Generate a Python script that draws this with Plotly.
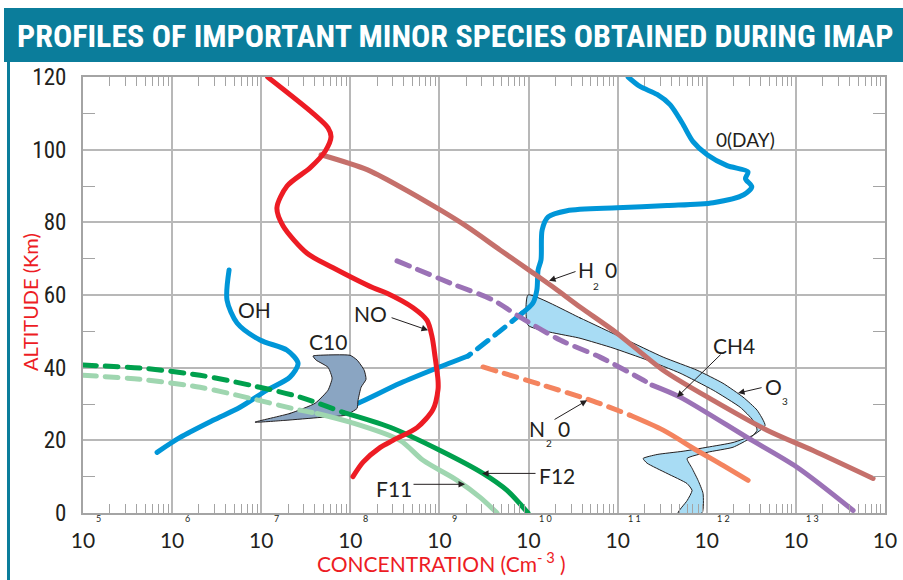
import plotly.graph_objects as go

# ---------------- data (concentration in cm^-3, altitude in km) ----------------
no_conc = [1.18e7, 3.81e7, 5.62e7, 6.07e7, 5.20e7, 3.53e7, 1.95e7, 1.50e7, 1.76e7, 3.27e7, 6.40e7,
           1.80e8, 2.58e8, 5.06e8, 7.26e8, 8.26e8, 8.93e8, 9.64e8, 9.64e8, 8.47e8, 5.61e8, 3.01e8,
           2.15e8, 1.39e8, 1.07e8]
no_alt = [120, 110, 106, 103.5, 99.5, 95, 90, 84, 79, 71.5, 67.5, 62, 60.5, 56.5, 53, 48.5, 43,
          36.5, 34, 28.5, 23.5, 20, 18, 14, 10]

oday_conc = [1.31e11, 1.78e11, 2.77e11, 3.87e11, 5.28e11, 7.01e11, 1.01e12, 1.69e12, 2.90e12,
             2.72e12, 3.20e12, 2.60e12, 1.18e12, 3.58e11, 9.84e10, 2.70e10,
             1.66e10, 1.42e10, 1.38e10, 1.28e10, 1.24e10, 1.12e10, 8.45e9]
oday_alt = [120, 117.4, 115.2, 112.4, 107.4, 102.2, 98.6, 95.6, 93.9, 92.0, 89.8,
            87.6, 85.4, 84.6, 84.0, 83.2, 81.5, 77.9, 69.7, 66.9, 61.4, 57.8, 55.0]
o_dash_conc = [8.45e9, 4.21e9, 2.09e9]
o_dash_alt = [55.0, 49.0, 43.2]
o_low_conc = [2.09e9, 9.40e8, 3.61e8, 1.22e8, 8.71e7]
o_low_alt = [43.2, 39.9, 35.7, 30.2, 28.8]

oh_conc = [4.36e6, 4.13e6, 5.35e6, 9.70e6, 1.95e7, 2.59e7, 2.10e7, 1.16e7, 5.78e6, 2.88e6,
           1.23e6, 6.78e5]
oh_alt = [66.9, 58.6, 52.3, 47.6, 44.8, 41.2, 37.4, 33.8, 29.1, 25.5, 20.8, 16.7]

o3_conc = [4.69e7, 1.54e8, 3.61e8, 1.02e9, 2.04e9, 4.79e9, 1.12e10, 2.09e10, 3.78e10, 9.84e10,
           3.24e11, 1.18e12, 4.75e12, 1.56e13, 7.35e13]
o3_alt = [98.6, 94.5, 89.8, 83.4, 78.8, 72.4, 66.1, 61.4, 56.7, 49.5, 39.3, 31.0, 22.8, 17.2, 9.5]

ch4_dash_conc = [3.34e8, 1.32e9, 4.00e9, 8.04e9, 2.26e10, 6.34e10, 1.93e11, 2.43e11]
ch4_dash_alt = [69.4, 63.3, 58.6, 53.9, 47.6, 42.9, 36.6, 35.2]
ch4_conc = [2.43e11, 5.01e11, 2.83e12, 1.03e13, 4.39e13]
ch4_alt = [35.2, 31.9, 20.8, 12.6, 0.7]

n2o_dash_conc = [3.08e9, 1.35e10, 5.30e10, 1.38e11]
n2o_dash_alt = [40.2, 35.4, 30.8, 26.9]
n2o_conc = [1.38e11, 3.24e11, 7.78e11, 1.52e12, 2.91e12]
n2o_alt = [26.9, 22.8, 17.2, 13.1, 9.0]

f12_dash_conc = [1.00e5, 4.37e5, 2.06e6, 7.48e6, 2.72e7, 8.28e7]
f12_dash_alt = [40.7, 39.9, 37.9, 35.2, 31.9, 27.7]
f12_conc = [8.28e7, 2.79e8, 1.02e9, 3.08e9, 5.74e9, 9.86e9]
f12_alt = [27.7, 23.6, 17.2, 10.9, 6.2, 0]

f11_dash_conc = [1.00e5, 4.37e5, 2.06e6, 7.48e6, 2.72e7, 4.23e7]
f11_dash_alt = [37.9, 36.8, 34.6, 31.6, 28.3, 27.4]
f11_conc = [4.23e7, 9.93e7, 3.61e8, 6.55e8, 1.58e9, 2.86e9, 4.43e9]
f11_alt = [27.4, 25.0, 20.0, 14.5, 9.0, 4.3, 0]

h2o_conc = [9.86e9, 3.78e10, 1.15e11, 3.24e11, 7.78e11, 1.52e12, 2.55e12, 3.67e12, 4.51e12,
            3.31e12, 1.97e12, 1.01e12, 5.42e11, 2.77e11, 1.93e11, 2.14e11, 3.58e11, 6.01e11,
            6.84e11, 6.01e11, 4.76e11,
            8.85e11, 9.08e11, 7.98e11, 6.84e11, 6.01e11, 1.01e12, 1.97e12, 3.06e12, 3.67e12,
            3.31e12, 2.37e12, 1.18e12, 5.01e11, 2.14e11, 8.87e10, 3.78e10, 9.86e9, 9.86e9]
h2o_alt = [60.0, 53.7, 48.1, 42.9, 39.3, 35.7, 31.9, 28.3, 24.1, 21.4, 19.4, 18.1, 17.0, 16.1,
           15.0, 13.7, 10.9, 8.1, 6.2, 3.4, 0,
           0, 5.4, 9.0, 12.3, 15.0, 16.7, 18.1, 20.6, 22.8, 25.5, 29.1, 33.8, 38.5, 42.1, 45.4,
           48.1, 51.7, 60.0]

c10_conc = [8.51e6, 2.10e7, 4.02e7, 5.62e7, 6.24e7, 5.62e7, 4.12e7, 3.81e7, 4.35e7, 9.93e7,
            1.19e8, 1.43e8, 1.50e8, 1.32e8, 1.22e8, 1.19e8, 8.71e7, 4.57e7, 1.85e7, 8.51e6]
c10_alt = [25.0, 27.4, 30.2, 33.8, 37.1, 40.1, 42.1, 43.2, 43.4, 43.4, 42.1, 39.3, 36.8, 34.6,
           31.0, 28.8, 26.9, 26.3, 25.5, 25.0]

decade_exponents = [5, 6, 7, 8, 9, 10, 11, 12, 13, 14]
alt_ticks = [0, 20, 40, 60, 80, 100, 120]

# ---------------- styling ----------------
RED = "#ed1c24"
BLUE = "#0096d8"
O3C = "#c5706b"
PURPLE = "#9b72b6"
ORANGE = "#f4845f"
GREEN = "#00a04d"
LGREEN = "#9fd6b0"
TEAL = "#0b7d9b"
GRID = "#b8b8b8"
AXIS = "#a4a4a4"
INK = "#231f20"
DASH = "13px,9px"
LW = 5
COND = "Roboto Condensed, Open Sans Condensed, Noto Sans Condensed, Roboto, sans-serif"

fig = go.Figure()


def add_line(x, y, color, dash=None, width=LW):
    fig.add_trace(go.Scatter(x=x, y=y, mode="lines",
                             line=dict(color=color, width=width, dash=dash, shape="spline",
                                       smoothing=0.8),
                             hoverinfo="skip", showlegend=False))


def add_area(x, y, fill):
    fig.add_trace(go.Scatter(x=x, y=y, mode="lines", fill="toself", fillcolor=fill,
                             line=dict(color=INK, width=1, shape="spline", smoothing=0.5),
                             hoverinfo="skip", showlegend=False))


add_area(h2o_conc, h2o_alt, "#a8dcf4")
add_line(o_low_conc, o_low_alt, BLUE)
add_area(c10_conc, c10_alt, "#8aa5c2")
add_line(o_dash_conc, o_dash_alt, BLUE, DASH)
add_line(oday_conc, oday_alt, BLUE)
add_line(oh_conc, oh_alt, BLUE)
add_line(o3_conc, o3_alt, O3C)
add_line(ch4_dash_conc, ch4_dash_alt, PURPLE, DASH)
add_line(ch4_conc, ch4_alt, PURPLE)
add_line(n2o_dash_conc, n2o_dash_alt, ORANGE, DASH)
add_line(n2o_conc, n2o_alt, ORANGE)
add_line(f11_dash_conc, f11_dash_alt, LGREEN, DASH)
add_line(f11_conc, f11_alt, LGREEN)
add_line(f12_dash_conc, f12_dash_alt, GREEN, DASH)
add_line(f12_conc, f12_alt, GREEN)
add_line(no_conc, no_alt, RED)

decades = [10.0 ** e for e in decade_exponents]
minor_x = [k * 10.0 ** e for e in decade_exponents[:-1] for k in range(2, 10)]

fig.update_xaxes(type="log", range=[5, 14], tickmode="array", tickvals=decades,
                 ticktext=["10"] * len(decades), ticks="", ticklabelstandoff=8,
                 tickfont=dict(family="Lato, sans-serif", size=21, color=INK),
                 showgrid=True, gridcolor=GRID, gridwidth=1.5, automargin=False,
                 showline=True, linecolor=AXIS, linewidth=2, mirror="allticks",
                 zeroline=False,
                 minor=dict(tickmode="array", tickvals=minor_x, ticks="inside", ticklen=9,
                            tickwidth=1.3, tickcolor=AXIS, showgrid=False))
fig.update_yaxes(range=[0, 120], tickmode="array", tickvals=alt_ticks,
                 ticktext=[str(v) for v in alt_ticks], ticks="", ticklabelstandoff=10,
                 tickfont=dict(family=COND, size=23, color=INK),
                 showgrid=True, gridcolor=GRID, gridwidth=1.5, automargin=False,
                 showline=True, linecolor=AXIS, linewidth=2, mirror="allticks",
                 zeroline=False,
                 minor=dict(tickmode="array", tickvals=[10, 30, 50, 70, 90, 110], ticks="inside",
                            ticklen=12, tickwidth=1.3, tickcolor=AXIS, showgrid=False))

L, T, R, B = 83, 77, 18, 67
W, H = 903, 580
PW, PH = W - L - R, H - T - B


def px(xp):
    return (xp - L) / PW


def py(yp):
    return (H - B - yp) / PH


shapes = [
    dict(type="rect", xref="paper", yref="paper", x0=px(4), x1=px(905), y0=py(62), y1=py(8),
         fillcolor=TEAL, line=dict(width=0), layer="above"),
    dict(type="line", xref="paper", yref="paper", x0=px(8.5), x1=px(8.5), y0=py(62), y1=py(585),
         line=dict(color=TEAL, width=3)),
]

ann = []
LABEL_FONT = dict(family="Lato, sans-serif", size=21, color=INK)
SUB_FONT = dict(family="Lato, sans-serif", size=10, color=INK)


def label(text, lx, ly, font=LABEL_FONT):
    ann.append(dict(text=text, x=lx, y=ly, xref="x", yref="y", showarrow=False, font=font,
                    xanchor="center", yanchor="middle"))


def arrow(tip_x, tip_y, tail_x, tail_y):
    ann.append(dict(text="", x=tip_x, y=tip_y, ax=tail_x, ay=tail_y, xref="x", yref="y",
                    axref="x", ayref="y", showarrow=True, arrowhead=2, arrowsize=1.3,
                    arrowwidth=1, arrowcolor=INK, standoff=0, startstandoff=0))


# curve labels (x given as log10 of concentration, as plotly log axes require)
label("0(DAY)", 12.43, 102.8, dict(family="Lato, sans-serif", size=19, color=INK))
label("OH", 6.92, 55.9)
label("NO", 8.23, 54.8)
arrow(8.872, 50.3, 8.446, 53.9)
label("C10", 7.75, 47.3)
label("H", 10.64, 66.9)
label("2", 10.76, 62.4, SUB_FONT)
label("0", 10.93, 66.9)
arrow(10.23, 63.9, 10.544, 66.6)
label("N", 10.10, 23.3)
label("2", 10.23, 19.2, SUB_FONT)
label("0", 10.40, 23.3)
arrow(10.657, 31.0, 10.275, 25.5)
label("F12", 10.32, 10.3)
arrow(9.478, 10.9, 10.095, 10.9)
label("F11", 8.49, 6.8)
arrow(9.287, 7.9, 8.692, 7.9)
label("CH4", 12.31, 46.2)
arrow(11.667, 31.9, 12.172, 44.0)
label("O", 12.745, 34.9)
label("3", 12.88, 30.8, SUB_FONT)
arrow(12.351, 33.0, 12.632, 34.6)

# exponents of the decade tick labels
for e in decade_exponents:
    txt = " ".join(str(e))
    off = 0.03 if e == 14 else (0.19 if e >= 10 else 0.17)
    ann.append(dict(text=txt, x=e + off, y=py(518), xref="x", yref="paper", showarrow=False,
                    font=dict(family="Lato, sans-serif", size=9, color=INK),
                    xanchor="center", yanchor="middle"))

# title and axis titles
ann.append(dict(text="<b>PROFILES OF IMPORTANT MINOR SPECIES OBTAINED DURING IMAP</b>",
                x=px(455), y=py(36), xref="paper", yref="paper", showarrow=False,
                font=dict(family=COND, size=32, color="white"),
                xanchor="center", yanchor="middle"))
ann.append(dict(text="ALTITUDE (Km)", x=px(30), y=py(302), xref="paper", yref="paper",
                showarrow=False, textangle=-90,
                font=dict(family="Lato, sans-serif", size=20, color=RED),
                xanchor="center", yanchor="middle"))
ann.append(dict(text="CONCENTRATION (Cm<sup>- 3</sup> )", x=px(441), y=py(562),
                xref="paper", yref="paper", showarrow=False,
                font=dict(family="Lato, sans-serif", size=21, color=RED),
                xanchor="center", yanchor="middle"))

fig.update_layout(width=W, height=H, margin=dict(l=L, r=R, t=T, b=B, autoexpand=False),
                  paper_bgcolor="white", plot_bgcolor="white",
                  shapes=shapes, annotations=ann, showlegend=False)

fig.write_html("out.html", config={"displayModeBar": False},
               post_script=("document.body.style.margin='0';"
                            "document.body.style.overflow='hidden';"
                            "var s=document.createElement('style');"
                            "s.textContent='.scatterlayer .js-line{stroke-linecap:round;}';"
                            "document.head.appendChild(s);"))
